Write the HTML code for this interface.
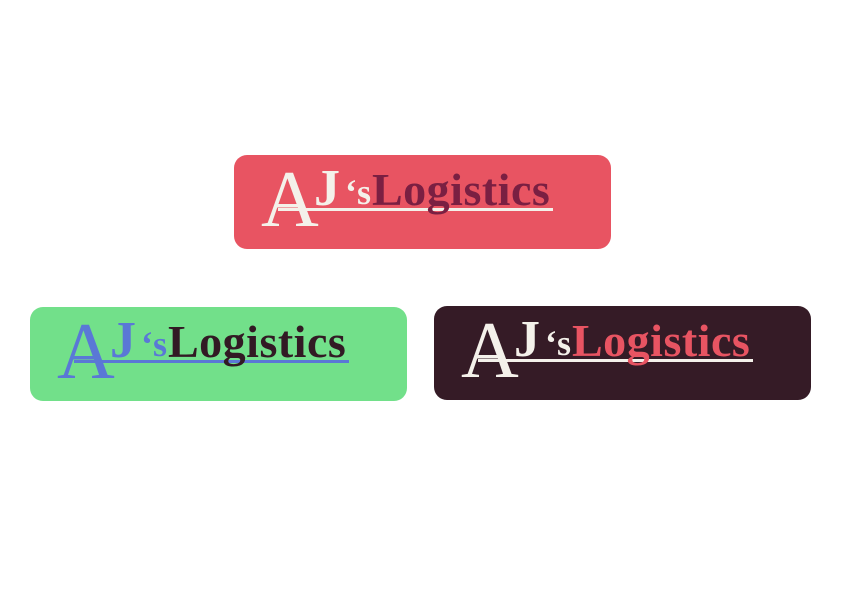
<!DOCTYPE html>
<html><head><style>
html,body{margin:0;padding:0;width:842px;height:595px;background:#fff;overflow:hidden;position:relative}
.box{position:absolute;width:377px;height:94px;border-radius:13px;overflow:hidden;font-family:"Liberation Serif",serif}
.box span{position:absolute;line-height:1;white-space:nowrap;font-weight:bold}
.box span.a{font-weight:normal}
.a{left:27px;top:5px;font-size:80px}
.j{left:80px;top:8px;font-size:52px}
.s{left:111px;top:19px;font-size:36px}
.l{left:138px;top:12px;font-size:46px;letter-spacing:0.5px}
.u{position:absolute;left:44px;top:53px;width:275px;height:3px}
</style></head><body>
<div class="box" style="left:234px;top:155px;background:#e85462">
 <div class="u" style="background:#f4f1ea"></div>
 <span class="a" style="color:#f4f1ea">A</span>
 <span class="j" style="color:#f4f1ea">J</span>
 <span class="s" style="color:#f4f1ea">‘s</span>
 <span class="l" style="color:#7a1f42">Logistics</span>
</div>
<div class="box" style="left:30px;top:307px;background:#72e08a">
 <div class="u" style="background:#5a78d6"></div>
 <span class="a" style="color:#5a78d6">A</span>
 <span class="j" style="color:#5a78d6">J</span>
 <span class="s" style="color:#5a78d6">‘s</span>
 <span class="l" style="color:#321a24">Logistics</span>
</div>
<div class="box" style="left:434px;top:306px;background:#351b26">
 <div class="u" style="background:#f4f1ea"></div>
 <span class="a" style="color:#f4f1ea">A</span>
 <span class="j" style="color:#f4f1ea">J</span>
 <span class="s" style="color:#f4f1ea">‘s</span>
 <span class="l" style="color:#e85462">Logistics</span>
</div>
</body></html>
